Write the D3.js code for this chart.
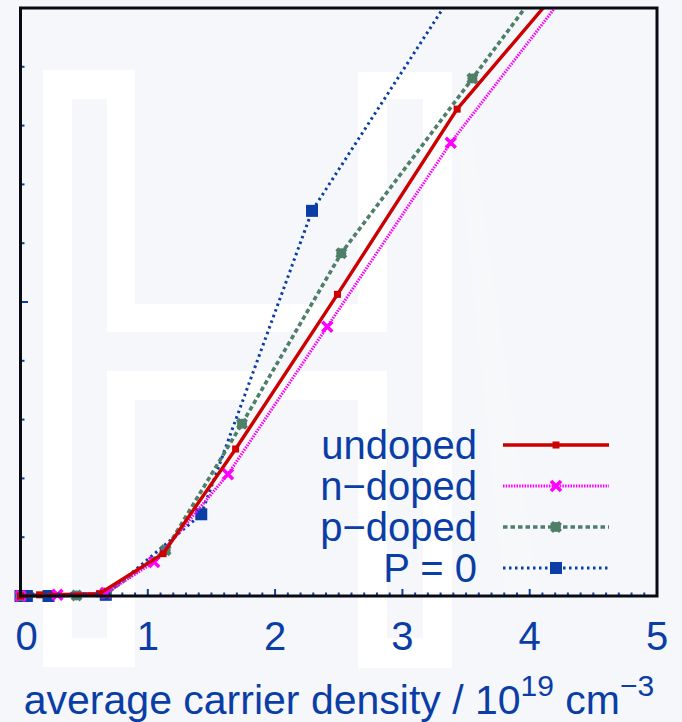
<!DOCTYPE html>
<html><head><meta charset="utf-8">
<script src="https://cdn.jsdelivr.net/npm/d3@7"></script>
<style>
html,body{margin:0;padding:0;background:#f5f7fa;}
svg{display:block;font-family:"Liberation Sans",Arial,sans-serif;}
</style></head>
<body>
<script>
// ---- data ----
const xTickLabels = [0,1,2,3,4,5];
const undopedX = [0, 0.15, 0.62, 1.12, 1.69, 2.49, 3.43, 4.4];
const undopedY = [0, 0.02, 0.04, 0.72, 2.50, 5.13, 8.28, 10.75];
const ndopedX  = [0, 0.29, 0.67, 1.05, 1.63, 2.41, 3.38, 4.4];
const ndopedY  = [0, 0.02, 0.05, 0.58, 2.07, 4.58, 7.71, 10.57];
const pdopedX  = [0, 0.44, 0.68, 1.14, 1.74, 2.52, 3.55, 4.4];
const pdopedY  = [0, 0.01, 0.05, 0.78, 2.93, 5.83, 8.80, 11.27];
const p0X      = [0, 0.05, 0.22, 0.67, 1.42, 2.29, 3.5];
const p0Y      = [0, 0, 0, 0.02, 1.39, 6.55, 10.6];
const seriesNames = ["undoped","n\u2212doped","p\u2212doped","P = 0"];

const W=682,H=722;
const textColor="#0a3ea6";
const svg=d3.select("body").append("svg").attr("width",W).attr("height",H);

// background watermark "H"
const bg=svg.append("g");
bg.append("rect").attr("width",W).attr("height",H).attr("fill","#f5f7fa");
bg.append("path").attr("d","M452,90 L466,90 L540,600 L505,600 Z").attr("fill","#f7f8fa");
const outer="M43,70 H135 V304 H358 V72 H452 V668 H358 V400 H135 V667 H43 Z";
bg.append("path").attr("d",outer).attr("fill","#ffffff");
bg.append("rect").attr("x",72).attr("y",99).attr("width",35).attr("height",539).attr("fill","#f5f7fa");
bg.append("rect").attr("x",387).attr("y",99).attr("width",36).attr("height",539).attr("fill","#f5f7fa");
bg.append("rect").attr("x",107).attr("y",332).attr("width",280).attr("height",39).attr("fill","#f5f7fa");

const x=d3.scaleLinear().domain([0,5]).range([20.5,657]);
const y=d3.scaleLinear().domain([0,10]).range([596,8]);

svg.append("defs").append("clipPath").attr("id","clip")
  .append("rect").attr("x",0).attr("y",8).attr("width",657).attr("height",700);

const series=[
  {name:seriesNames[3],xs:p0X,ys:p0Y,color:"#0a3ea6",w:3,dash:"2.5,3.5",marker:"square"},
  {name:seriesNames[2],xs:pdopedX,ys:pdopedY,color:"#4f7f68",w:3.6,dash:"4.5,3",marker:"circle"},
  {name:seriesNames[1],xs:ndopedX,ys:ndopedY,color:"#ff00ff",w:3,dash:"1.5,1.2",marker:"x"},
  {name:seriesNames[0],xs:undopedX,ys:undopedY,color:"#cc0000",w:3.4,dash:null,marker:"sq"}
];

const line=d3.line().x(d=>x(d[0])).y(d=>y(d[1]));
const plot=svg.append("g").attr("clip-path","url(#clip)");

function drawMarker(g,type,cx,cy,color){
  if(type==="square"){
    g.append("rect").attr("x",cx-6).attr("y",cy-6).attr("width",12).attr("height",12).attr("fill",color);
  } else if(type==="sq"){
    g.append("rect").attr("x",cx-3.5).attr("y",cy-3.5).attr("width",7).attr("height",7).attr("fill",color);
  } else if(type==="circle"){
    g.append("path").attr("d",d3.symbol().type(d3.symbolCross).size(90)())
      .attr("transform",`translate(${cx},${cy}) rotate(45)`).attr("fill",color);
    g.append("circle").attr("cx",cx).attr("cy",cy).attr("r",5).attr("fill",color);
  } else if(type==="x"){
    g.append("path").attr("d",`M${cx-5},${cy-5}L${cx+5},${cy+5}M${cx-5},${cy+5}L${cx+5},${cy-5}`)
      .attr("stroke",color).attr("stroke-width",3.5);
  }
}

series.forEach(s=>{
  const pts=s.xs.map((v,i)=>[v,s.ys[i]]);
  plot.append("path").datum(pts).attr("d",line).attr("fill","none")
    .attr("stroke",s.color).attr("stroke-width",s.w)
    .attr("stroke-dasharray",s.dash);
  pts.forEach(p=>drawMarker(plot,s.marker,x(p[0]),y(p[1]),s.color));
});

// ticks
const tk=svg.append("g").attr("stroke",textColor).attr("stroke-width",2);
d3.range(1,50).forEach(i=>{
  const v=i/10; const major=(i%10===0);
  tk.append("line").attr("x1",x(v)).attr("x2",x(v)).attr("y1",596).attr("y2",596-(major?7:3.5));
});
d3.range(1,10).forEach(v=>{
  const major=(v===5);
  tk.append("line").attr("x1",21).attr("x2",21+(major?7:3.5)).attr("y1",y(v)).attr("y2",y(v));
});

// frame
svg.append("rect").attr("x",x(0)).attr("y",y(10)).attr("width",x(5)-x(0)).attr("height",y(0)-y(10))
  .attr("fill","none").attr("stroke","#0a0a14").attr("stroke-width",3);

// x tick labels
svg.append("g").selectAll("text").data(xTickLabels).join("text")
  .attr("x",d=>x(d)+(d===0?6:0)).attr("y",650).attr("text-anchor","middle")
  .attr("font-size",40).attr("fill",textColor).text(d=>d);

// axis title
const t=svg.append("text").attr("x",339).attr("y",714).attr("text-anchor","middle")
  .attr("font-size",41).attr("fill",textColor);
t.append("tspan").text("average carrier density / 10");
t.append("tspan").attr("font-size",30).attr("dy",-18).text("19");
t.append("tspan").attr("dy",18).text(" cm");
t.append("tspan").attr("font-size",30).attr("dy",-18).text("\u22123");

// legend
const legY=[445,486,527,568];
const legOrder=[3,2,1,0];
legOrder.forEach((si,i)=>{
  const s=series[si];
  const ly=legY[i];
  svg.append("text").attr("x",477).attr("y",ly+14).attr("text-anchor","end")
    .attr("font-size",40).attr("fill",textColor).text(s.name);
  svg.append("line").attr("x1",503).attr("x2",609).attr("y1",ly).attr("y2",ly)
    .attr("stroke",s.color).attr("stroke-width",s.w).attr("stroke-dasharray",s.dash);
  drawMarker(svg,s.marker,556,ly,s.color);
});
</script>
</body></html>
